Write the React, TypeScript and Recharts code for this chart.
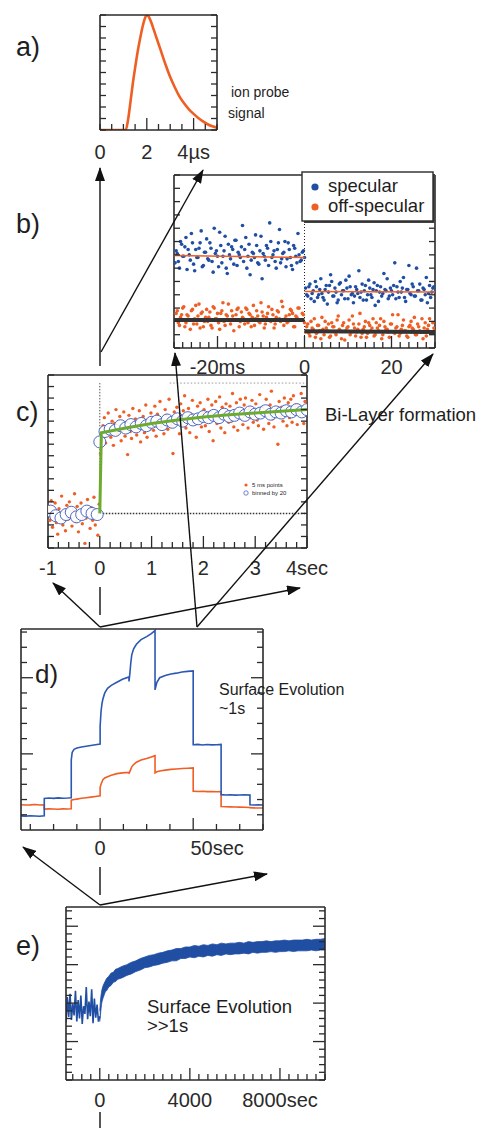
import React from "react";
import { ComposedChart, Line, Scatter, Area, XAxis, YAxis } from "recharts";

const FONT = "'Liberation Sans', Arial, Helvetica, sans-serif";
const INK = "#2a2a2a";
const ORANGE = "#ef5f24";
const BLUE = "#1f4ea3";
const BLUE_D = "#2a58b2";
const GREEN = "#6cab2e";

// ---- a) ion probe pulse ----
const aTime = [0, 0.5, 1.0, 1.1, 1.2, 1.3, 1.4, 1.5, 1.6, 1.7, 1.8, 1.9, 2.0, 2.1, 2.2, 2.3, 2.4, 2.5, 2.6, 2.8, 3.0, 3.2, 3.4, 3.6, 3.8, 4.0, 4.2, 4.4, 4.6, 4.8, 5.0];
const aSignal = [0, 0, 0, 0, 0.9, 2.4, 4.0, 5.4, 6.7, 7.8, 8.8, 9.6, 10, 9.8, 9.3, 8.7, 8.1, 7.5, 6.9, 5.7, 4.6, 3.7, 2.9, 2.3, 1.8, 1.4, 1.05, 0.75, 0.5, 0.32, 0.2];
const aTickLabels: [number, string][] = [[0, "0"], [2, "2"], [4, "4µs"]];

// ---- b) specular / off-specular, ms scale (two interleaved shot sets) ----
const bSpecularPre = [6.4, 7.1, 6.0, 7.8, 6.9, 8.3, 7.4, 6.6, 7.9, 5.8, 6.8, 7.5, 8.8, 6.2, 7.2, 6.7, 7.9, 6.5, 9.0, 7.3, 6.1, 7.7, 6.9, 8.4, 5.6, 7.0, 7.6, 6.3, 8.1, 7.2, 6.8, 9.2, 7.4, 6.0, 7.8, 6.6, 7.1, 8.5, 6.4, 7.3, 5.2, 6.9, 7.7, 6.2, 8.0, 7.0, 6.5, 7.4, 8.9, 6.7, 7.2, 6.1, 7.9, 6.8, 5.9, 7.5, 6.4, 7.0, 6.6, 7.3];
const bSpecularPre2 = [7.3, 6.5, 8.0, 6.9, 7.6, 5.9, 7.0, 8.6, 6.3, 7.4, 6.8, 7.9, 6.1, 7.2, 8.2, 6.6, 7.5, 5.7, 7.1, 6.9, 8.7, 6.4, 7.3, 6.0, 7.8, 6.7, 7.4, 8.1, 6.2, 7.0, 7.6, 6.5, 8.3, 6.9, 5.5, 7.2, 6.8, 7.7, 6.3, 8.4, 7.1, 6.6, 7.5, 9.4, 6.8, 7.3, 6.0, 7.9, 6.4, 7.1, 8.0, 6.7, 7.4, 6.2, 7.7, 6.9, 8.6, 6.5, 7.2, 6.8];
const bOffPre = [2.1, 2.8, 1.7, 2.5, 3.1, 1.9, 2.4, 1.4, 2.9, 2.2, 1.8, 3.3, 2.6, 1.6, 2.3, 2.0, 2.7, 1.5, 3.0, 2.2, 1.9, 2.6, 3.4, 1.7, 2.4, 2.1, 2.8, 1.3, 2.5, 3.0, 2.0, 2.3, 1.8, 2.9, 2.6, 1.6, 3.2, 2.2, 2.4, 1.9, 2.7, 1.5, 2.3, 3.1, 2.0, 2.5, 1.8, 2.8, 2.2, 3.5, 1.7, 2.4, 2.0, 2.9, 2.6, 1.6, 2.3, 3.0, 2.1, 2.5];
const bOffPre2 = [2.6, 1.9, 2.3, 3.0, 1.6, 2.5, 2.1, 2.8, 1.8, 3.2, 2.4, 1.5, 2.7, 2.0, 2.9, 2.3, 1.7, 3.1, 2.2, 2.6, 1.4, 2.8, 2.0, 2.5, 3.3, 1.8, 2.4, 2.1, 2.9, 1.6, 2.7, 2.2, 3.0, 1.9, 2.5, 2.3, 1.7, 2.8, 2.0, 3.4, 2.4, 1.8, 2.6, 2.1, 2.9, 1.5, 2.3, 2.7, 2.0, 3.1, 2.2, 1.9, 2.5, 2.8, 1.6, 2.4, 3.0, 2.1, 2.6, 1.9];
const bSpecularPost = [4.5, 3.9, 4.8, 4.1, 3.5, 4.6, 4.0, 5.2, 3.8, 4.4, 3.3, 4.7, 5.0, 3.9, 4.2, 3.6, 4.9, 4.3, 3.7, 4.5, 5.4, 4.0, 3.4, 4.6, 4.1, 3.8, 4.8, 4.3, 3.6, 5.1, 4.0, 4.4, 3.2, 4.7, 4.2, 3.9, 5.6, 4.3, 3.7, 4.5, 4.0, 6.4, 4.6, 3.8, 4.2, 5.3, 3.5, 4.4, 4.1, 4.8, 3.9, 6.0, 4.3, 3.6, 4.5, 4.0, 3.4, 4.7, 4.2, 4.6];
const bSpecularPost2 = [4.0, 4.6, 3.7, 4.3, 5.0, 3.8, 4.4, 4.1, 3.6, 4.7, 4.2, 5.5, 3.9, 4.5, 3.4, 4.8, 4.0, 4.3, 5.1, 3.7, 4.6, 4.1, 3.9, 4.4, 5.8, 4.2, 3.6, 4.7, 4.0, 4.5, 3.8, 4.9, 4.3, 3.5, 4.6, 4.1, 4.4, 5.2, 3.9, 4.3, 4.7, 3.7, 4.2, 5.0, 4.5, 3.8, 4.4, 6.2, 4.0, 4.6, 3.9, 4.3, 4.8, 3.6, 4.4, 5.3, 4.1, 3.8, 4.5, 4.2];
const bOffPost = [1.2, 1.8, 0.9, 1.5, 2.2, 1.1, 1.7, 0.7, 1.4, 2.0, 1.3, 0.8, 1.9, 1.6, 1.0, 2.4, 1.3, 1.7, 0.6, 1.5, 2.1, 1.2, 1.8, 0.9, 1.4, 2.6, 1.1, 1.6, 0.8, 1.9, 1.3, 2.2, 1.0, 1.5, 1.7, 0.7, 2.0, 1.4, 1.2, 1.8, 2.5, 1.1, 1.6, 0.9, 1.4, 2.1, 1.3, 0.8, 1.7, 1.5, 2.3, 1.0, 1.6, 1.2, 0.7, 1.9, 1.4, 2.2, 1.1, 1.5];
const bOffPost2 = [1.6, 1.1, 2.0, 1.4, 0.8, 1.7, 1.3, 2.3, 1.0, 1.5, 1.8, 0.9, 1.6, 1.2, 2.1, 1.4, 0.7, 1.9, 1.3, 1.6, 1.0, 2.4, 1.5, 1.2, 1.8, 0.8, 1.4, 2.0, 1.1, 1.7, 1.5, 0.9, 1.9, 1.3, 2.2, 1.0, 1.6, 1.4, 0.8, 1.8, 1.2, 1.5, 2.5, 1.1, 1.7, 1.3, 0.9, 1.6, 2.0, 1.4, 1.0, 1.8, 1.3, 2.2, 1.5, 0.9, 1.7, 1.2, 1.9, 1.4];
const bSpecularFitPre = [{ x: -30, y: 6.95 }, { x: 0, y: 6.8 }];
const bSpecularFitPost = [{ x: 0, y: 4.25 }, { x: 30, y: 4.2 }];
const bOffFitPre = [{ x: -30, y: 2.1 }, { x: 0, y: 2.1 }];
const bOffFitPost = [{ x: 0, y: 1.25 }, { x: 30, y: 1.2 }];
const bZeroMarker = [{ x: 0, y: 0 }, { x: 0, y: 13 }];
const bTickLabels: [number, string][] = [[-20, "-20ms"], [0, "0"], [20, "20"]];
const bSampleStep = 0.5; // ms between shots of one set

// ---- c) bi-layer formation, seconds ----
const cOffPre = [3.6, 2.4, 4.1, 1.8, 3.0, 3.9, 2.2, 1.2, 3.4, 2.7, 4.5, 2.0, 3.1, 1.5, 3.7, 2.5, 4.0, 2.9, 1.9, 3.3, 4.7, 2.3, 3.6, 1.4, 2.8, 3.9, 2.1, 3.2, 0.4, 2.6, 4.2, 3.0, 1.7, 3.5, 2.4, 4.4, 2.0, 3.1, 1.1, 3.8];
const cOffPost = [
  8.2, 9.4, 10.6, 11.3, 9.1, 10.0, 11.7, 10.4, 9.6, 11.0, 8.9, 10.8, 12.0, 9.9, 10.5, 11.4, 9.3, 10.2, 11.8, 9.7,
  10.9, 8.1, 11.5, 10.1, 9.5, 12.1, 10.7, 11.2, 9.8, 10.4, 11.9, 9.2, 10.6, 11.4, 10.0, 12.4, 9.6, 11.1, 10.3, 11.7,
  11.3, 10.2, 12.3, 9.7, 11.6, 10.8, 12.7, 10.5, 11.1, 9.9, 12.0, 11.5, 10.3, 12.9, 11.0, 10.6, 8.2, 11.8, 10.9, 12.2,
  11.4, 9.9, 12.5, 10.7, 11.9, 13.2, 10.4, 11.2, 12.1, 10.0, 11.6, 12.8, 10.9, 11.3, 9.6, 12.3, 11.0, 12.6, 10.5, 11.8,
  12.0, 10.6, 11.4, 12.9, 10.1, 11.8, 12.4, 9.3, 11.1, 12.7, 10.8, 11.6, 13.1, 10.4, 12.2, 11.3, 10.0, 12.5, 11.7, 10.9,
  12.3, 11.0, 13.4, 10.5, 11.9, 12.6, 10.2, 11.5, 12.9, 11.2, 10.7, 12.4, 13.0, 11.6, 10.4, 12.1, 11.3, 12.8, 10.9, 11.7,
  12.5, 11.1, 10.6, 13.3, 11.8, 12.2, 10.3, 11.5, 12.9, 11.9, 10.8, 12.4, 13.6, 11.2, 10.5, 12.0, 11.6, 9.0, 12.7, 11.4,
  12.2, 11.0, 13.0, 11.7, 10.6, 12.6, 11.3, 12.9, 10.9, 13.2, 11.8, 12.4, 10.7, 12.1, 11.5, 13.4, 12.0, 10.8, 12.7, 11.6,
];
const cBinnedPre = [3.2, 2.8, 2.6, 2.9, 3.1, 2.7, 2.9, 3.2, 3.0, 2.9];
const cBinnedPost = [9.2, 10.1, 10.3, 10.2, 10.6, 10.4, 10.7, 10.5, 10.8, 10.6, 10.9, 11.0, 10.7, 11.1, 10.9, 11.2, 11.0, 11.3, 11.1, 11.2, 11.4, 11.3, 11.5, 11.3, 11.6, 11.4, 11.5, 11.7, 11.5, 11.8, 11.6, 11.7, 11.9, 11.6, 11.8, 11.7, 11.9, 11.8, 12.0, 11.8, 12.0];
const cFitTime = [0, 0, 0.03, 0.5, 1, 1.5, 2, 2.5, 3, 3.5, 4];
const cFitValue = [3.0, 3.0, 10.0, 10.4, 10.8, 11.1, 11.35, 11.55, 11.7, 11.85, 12.0];
const cBaseline = [{ x: 0, y: 3.0 }, { x: 4, y: 3.0 }];
const cStepMarker = [{ x: 0, y: 3.0 }, { x: 0, y: 14.3 }];
const cTopMarker = [{ x: 1.35, y: 14.3 }, { x: 4, y: 14.3 }];
const cTickLabels: [number, string][] = [[-1, "-1"], [0, "0"], [1, "1"], [2, "2"], [3, "3"], [4, "4sec"]];
const cPointStep = 0.025; // 5 ms points shown every 25 ms
const cBinStep = 0.1;

// ---- d) surface evolution ~1 s ----
const dTime = [-42.5, -40, -37.5, -35, -32.5, -30, -30, -27.5, -25, -22.5, -20, -17.5, -15.5, -15.5, -15, -14, -12.5, -10, -7.5, -5, -2.5, 0, 0, 0.5, 1, 1.5, 2.5, 4, 6, 9, 12, 15.5, 15.5, 16, 16.5, 17, 18, 19.5, 22, 25, 27.5, 29.5, 29.5, 30.5, 32, 35, 38, 41, 44, 47, 50, 50, 52.5, 55, 57.5, 60, 62.5, 65, 65, 67.5, 70, 72.5, 75, 77.5, 80.5, 80.5, 82.5, 85, 87.5];
const dSpecular = [0.93, 0.91, 0.94, 0.92, 0.9, 0.93, 2.07, 2.1, 2.08, 2.11, 2.09, 2.1, 2.12, 4.6, 5.1, 5.3, 5.38, 5.45, 5.5, 5.55, 5.6, 5.65, 6.8, 7.8, 8.3, 8.6, 9.0, 9.3, 9.5, 9.7, 9.9, 10.05, 9.75, 10.3, 11.0, 11.5, 11.9, 12.2, 12.5, 12.7, 12.9, 13.1, 9.2, 9.7, 10.0, 10.15, 10.25, 10.3, 10.38, 10.42, 10.45, 5.6, 5.62, 5.58, 5.61, 5.59, 5.6, 5.62, 2.32, 2.3, 2.31, 2.29, 2.3, 2.31, 2.29, 1.66, 1.64, 1.65, 1.64];
const dOffSpecular = [1.66, 1.64, 1.65, 1.67, 1.64, 1.65, 1.37, 1.39, 1.38, 1.36, 1.39, 1.38, 1.4, 1.95, 1.98, 2.0, 2.03, 2.08, 2.12, 2.16, 2.2, 2.24, 2.8, 3.0, 3.15, 3.3, 3.42, 3.5, 3.6, 3.7, 3.75, 3.78, 3.7, 3.85, 4.0, 4.15, 4.3, 4.45, 4.6, 4.7, 4.8, 4.88, 3.75, 3.82, 3.88, 3.93, 3.98, 4.01, 4.04, 4.06, 4.08, 2.55, 2.53, 2.54, 2.52, 2.53, 2.51, 2.52, 1.54, 1.53, 1.52, 1.51, 1.5, 1.49, 1.48, 1.46, 1.45, 1.44, 1.44];
const dTickLabels: [number, string][] = [[0, "0"], [50, "50sec"]];

// ---- e) surface evolution >>1 s ----
const ePreTime = [-1500, -1440, -1380, -1320, -1260, -1200, -1140, -1080, -1020, -960, -900, -840, -780, -720, -660, -600, -540, -480, -420, -360, -300, -240, -180, -120, -60, 0];
const ePreValue = [7.5, 10.8, 8.2, 11.2, 7.8, 9.9, 8.4, 11.6, 7.6, 10.4, 8.0, 11.0, 7.3, 9.6, 8.6, 12.1, 7.9, 10.2, 8.3, 11.8, 7.4, 10.6, 8.1, 9.8, 7.6, 8.3];
const eTime = [0, 25, 50, 75, 100, 150, 200, 250, 300, 400, 500, 600, 700, 800, 1000, 1200, 1400, 1600, 1800, 2000, 2200, 2400, 2600, 2800, 3000, 3200, 3400, 3600, 3800, 4000, 4200, 4400, 4600, 4800, 5000, 5200, 5400, 5600, 5800, 6000, 6200, 6400, 6600, 6800, 7000, 7200, 7400, 7600, 7800, 8000, 8200, 8400, 8600, 8800, 9000, 9200, 9400, 9600, 9800, 10000];
const eLow = [7.6, 8.3, 9.1, 9.8, 10.2, 10.7, 11.1, 11.5, 11.6, 12.1, 12.3, 12.7, 12.8, 13.1, 13.3, 13.6, 13.8, 14.1, 14.3, 14.6, 14.7, 14.9, 15.0, 15.2, 15.3, 15.5, 15.5, 15.8, 15.8, 16.0, 15.9, 16.1, 16.0, 16.2, 16.1, 16.3, 16.2, 16.4, 16.3, 16.4, 16.4, 16.5, 16.4, 16.6, 16.5, 16.6, 16.6, 16.7, 16.6, 16.7, 16.7, 16.8, 16.7, 16.8, 16.8, 16.8, 16.9, 16.8, 16.9, 16.9];
const eHigh = [9.0, 10.1, 10.9, 11.4, 11.8, 12.3, 12.6, 12.9, 13.2, 13.5, 13.9, 14.0, 14.4, 14.5, 14.8, 15.0, 15.3, 15.5, 15.8, 16.0, 16.2, 16.3, 16.5, 16.6, 16.8, 16.9, 17.1, 17.1, 17.3, 17.3, 17.5, 17.4, 17.6, 17.5, 17.7, 17.6, 17.8, 17.7, 17.8, 17.8, 17.9, 17.8, 18.0, 17.9, 18.0, 18.0, 18.1, 18.0, 18.1, 18.1, 18.2, 18.1, 18.2, 18.2, 18.2, 18.3, 18.2, 18.3, 18.3, 18.4];
const eTickLabels: [number, string][] = [[0, "0"], [4000, "4000"], [8000, "8000sec"]];

// ---------- helpers ----------
const steps = (a: number, b: number, s: number) => {
  const out: number[] = [];
  for (let i = 0; a + i * s <= b + 1e-9; i++) out.push(+(a + i * s).toFixed(6));
  return out;
};
const toXY = (xs: number[], ys: number[]) => xs.map((x, i) => ({ x, y: ys[i] }));
const spaced = (ys: number[], start: number, step: number) => ys.map((y, i) => ({ x: +(start + i * step).toFixed(6), y }));

type Side = "bottom" | "top" | "left" | "right";
const makeTick = (side: Side, major: number[], labels: [number, string][] = [], labelY = 27, shift: Record<string, number> = {}) =>
  (props: any) => {
    const { x, y, payload } = props;
    const v = Number(payload.value);
    const isMajor = major.some((m) => Math.abs(m - v) < 1e-6);
    const len = isMajor ? 12 : 6;
    let x2 = x;
    let y2 = y;
    if (side === "bottom") y2 = y - len;
    if (side === "top") y2 = y + len;
    if (side === "left") x2 = x + len;
    if (side === "right") x2 = x - len;
    const lab = labels.find((l) => Math.abs(l[0] - v) < 1e-6);
    return (
      <g>
        <line x1={x} y1={y} x2={x2} y2={y2} stroke={INK} strokeWidth={1.3} />
        {lab ? (
          <text x={x + (shift[lab[1]] ?? 0)} y={y + labelY} textAnchor="middle" fontSize={20} fontFamily={FONT} fill={INK}>
            {lab[1]}
          </text>
        ) : null}
      </g>
    );
  };

type FrameProps = {
  box: [number, number, number, number];
  xDomain: [number, number];
  yDomain: [number, number];
  xTicks: number[];
  yTicks: number[];
  xMajor: number[];
  yMajor: number[];
  xLabels: [number, string][];
  labelY?: number;
  shift?: Record<string, number>;
  children: React.ReactNode;
};

const AX = { xAxisId: "b", yAxisId: "l" } as const;
const axisLine = { stroke: INK, strokeWidth: 1.6 };

// axes get 1px of room each (a zero-sized axis is not drawn), margins make up for it
function Frame({ box, xDomain, yDomain, xTicks, yTicks, xMajor, yMajor, xLabels, labelY = 27, shift = {}, children }: FrameProps) {
  const [x1, y1, x2, y2] = box;
  const padTop = 10;
  const padBottom = 45;
  return (
    <div style={{ position: "absolute", left: 0, top: y1 - padTop }}>
      <ComposedChart width={483} height={y2 - y1 + padTop + padBottom} margin={{ top: padTop - 1, bottom: padBottom - 1, left: x1 - 1, right: 483 - x2 - 1 }}>
        <XAxis xAxisId="b" orientation="bottom" type="number" dataKey="x" domain={xDomain} allowDataOverflow ticks={xTicks} interval={0} height={1} tickSize={0} tickMargin={0} tickLine={false} axisLine={axisLine} tick={makeTick("bottom", xMajor, xLabels, labelY, shift)} />
        <XAxis xAxisId="t" orientation="top" type="number" domain={xDomain} allowDataOverflow ticks={xTicks} interval={0} height={1} tickSize={0} tickMargin={0} tickLine={false} axisLine={axisLine} tick={makeTick("top", xMajor)} />
        <YAxis yAxisId="l" orientation="left" type="number" dataKey="y" domain={yDomain} allowDataOverflow ticks={yTicks} interval={0} width={1} tickSize={0} tickMargin={0} tickLine={false} axisLine={axisLine} tick={makeTick("left", yMajor)} />
        <YAxis yAxisId="r" orientation="right" type="number" domain={yDomain} allowDataOverflow ticks={yTicks} interval={0} width={1} tickSize={0} tickMargin={0} tickLine={false} axisLine={axisLine} tick={makeTick("right", yMajor)} />
        {children}
      </ComposedChart>
    </div>
  );
}

const dot = (color: string, r = 1.8) => (p: any) => <circle cx={p.cx} cy={p.cy} r={r} fill={color} />;
const ring = (p: any) => <circle cx={p.cx} cy={p.cy} r={6} fill="#ffffff" fillOpacity={0.9} stroke="#4e68bd" strokeWidth={1} />;

// ---------- annotation overlay ----------
const ARROWS: [number, number, number, number, boolean][] = [
  [100, 366, 100, 168, true],
  [101, 352, 203, 170, true],
  [100, 587, 100, 615, false],
  [100, 627, 53, 583, true],
  [100, 627, 300, 588, true],
  [197, 627, 175, 353, true],
  [197, 627, 433, 354, true],
  [100, 867, 100, 895, false],
  [100, 905, 23, 847, true],
  [100, 905, 267, 874, true],
  [100, 1112, 100, 1128, false],
];

function Overlay() {
  const t = { fontFamily: FONT, fill: "#1e1e1e" };
  return (
    <svg width={483} height={1128} style={{ position: "absolute", left: 0, top: 0, pointerEvents: "none" }}>
      <defs>
        <marker id="head" markerUnits="userSpaceOnUse" markerWidth={14} markerHeight={10} refX={13} refY={5} orient="auto">
          <path d="M0,0 L14,5 L0,10 Z" fill="#111" />
        </marker>
      </defs>
      {ARROWS.map(([ax, ay, bx, by, head], i) => (
        <line key={i} x1={ax} y1={ay} x2={bx} y2={by} stroke="#111" strokeWidth={1.4} markerEnd={head ? "url(#head)" : undefined} />
      ))}

      <text x={16} y={56} fontSize={27} {...t}>a)</text>
      <text x={16} y={233} fontSize={27} {...t}>b)</text>
      <text x={16} y={421} fontSize={27} {...t}>c)</text>
      <text x={35} y={683} fontSize={26} {...t}>d)</text>
      <text x={16} y={955} fontSize={27} {...t}>e)</text>

      <text x={231} y={97} fontSize={14} {...t}>ion probe</text>
      <text x={228} y={118} fontSize={14} {...t}>signal</text>
      <text x={325} y={421} fontSize={18.5} {...t}>Bi-Layer formation</text>
      <text x={219} y={695} fontSize={16} {...t}>Surface Evolution</text>
      <text x={219} y={714} fontSize={16} {...t}>~1s</text>
      <text x={147} y={1013} fontSize={18.5} {...t}>Surface Evolution</text>
      <text x={147} y={1032} fontSize={18.5} {...t}>&gt;&gt;1s</text>

      {/* legend b */}
      <rect x={304} y={174} width={131} height={49} fill="#444" />
      <rect x={302} y={172} width={131} height={49} fill="#fff" stroke={INK} strokeWidth={1.4} />
      <circle cx={315} cy={187} r={3.6} fill={BLUE} />
      <circle cx={315} cy={207} r={3.6} fill={ORANGE} />
      <text x={328} y={192} fontSize={18.5} {...t}>specular</text>
      <text x={328} y={212} fontSize={18.5} {...t}>off-specular</text>

      {/* legend c */}
      <circle cx={246} cy={485} r={1.6} fill={ORANGE} />
      <circle cx={246} cy={493} r={2.2} fill="#fff" stroke="#4e68bd" strokeWidth={0.8} />
      <text x={252} y={487} fontSize={6} {...t}>5 ms points</text>
      <text x={252} y={495} fontSize={6} {...t}>binned by 20</text>
    </svg>
  );
}

export default function App() {
  return (
    <div style={{ position: "absolute", left: 0, top: 0, width: 483, height: 1128, background: "#fff", overflow: "hidden", fontFamily: FONT }}>
      {/* a */}
      <Frame box={[100, 15, 217, 130]} xDomain={[0, 5]} yDomain={[0, 10]} xTicks={steps(0, 5, 0.5)} yTicks={steps(0, 10, 1)} xMajor={[2, 4]} yMajor={[]} xLabels={aTickLabels} labelY={29}>
        <Line {...AX} data={toXY(aTime, aSignal)} dataKey="y" type="monotone" stroke={ORANGE} strokeWidth={2.6} dot={false} isAnimationActive={false} />
      </Frame>

      {/* b */}
      <Frame box={[174, 175, 435, 348]} xDomain={[-30, 30]} yDomain={[0, 13]} xTicks={steps(-30, 30, 2)} yTicks={steps(0, 13, 1)} xMajor={[-20, 0, 20]} yMajor={[]} xLabels={bTickLabels} labelY={26}>
        <Line {...AX} data={bZeroMarker} dataKey="y" stroke="#222" strokeWidth={1} strokeDasharray="1 2" dot={false} isAnimationActive={false} />
        <Scatter {...AX} data={spaced(bSpecularPre, -29.75, bSampleStep)} shape={dot(BLUE)} isAnimationActive={false} />
        <Scatter {...AX} data={spaced(bSpecularPre2, -29.5, bSampleStep)} shape={dot(BLUE)} isAnimationActive={false} />
        <Scatter {...AX} data={spaced(bSpecularPost, 0.25, bSampleStep)} shape={dot(BLUE)} isAnimationActive={false} />
        <Scatter {...AX} data={spaced(bSpecularPost2, 0.5, bSampleStep)} shape={dot(BLUE)} isAnimationActive={false} />
        <Scatter {...AX} data={spaced(bOffPre, -29.75, bSampleStep)} shape={dot(ORANGE)} isAnimationActive={false} />
        <Scatter {...AX} data={spaced(bOffPre2, -29.5, bSampleStep)} shape={dot(ORANGE)} isAnimationActive={false} />
        <Scatter {...AX} data={spaced(bOffPost, 0.25, bSampleStep)} shape={dot(ORANGE)} isAnimationActive={false} />
        <Scatter {...AX} data={spaced(bOffPost2, 0.5, bSampleStep)} shape={dot(ORANGE)} isAnimationActive={false} />
        <Line {...AX} zIndex={700} data={bSpecularFitPre} dataKey="y" stroke={ORANGE} strokeWidth={1.5} dot={false} isAnimationActive={false} />
        <Line {...AX} zIndex={700} data={bSpecularFitPost} dataKey="y" stroke={ORANGE} strokeWidth={1.5} dot={false} isAnimationActive={false} />
        <Line {...AX} zIndex={700} data={bOffFitPre} dataKey="y" stroke="#333" strokeWidth={4} dot={false} isAnimationActive={false} />
        <Line {...AX} zIndex={700} data={bOffFitPost} dataKey="y" stroke="#333" strokeWidth={4} dot={false} isAnimationActive={false} />
      </Frame>

      {/* c */}
      <Frame box={[48, 375, 307, 548]} xDomain={[-1, 4]} yDomain={[0, 15]} xTicks={steps(-1, 4, 0.2)} yTicks={steps(0, 15, 1)} xMajor={[-1, 0, 1, 2, 3, 4]} yMajor={[]} xLabels={cTickLabels} labelY={27}>
        <Line {...AX} data={cBaseline} dataKey="y" stroke="#333" strokeWidth={1.5} strokeDasharray="1.5 1.5" dot={false} isAnimationActive={false} />
        <Line {...AX} data={cStepMarker} dataKey="y" stroke="#555" strokeWidth={1} strokeDasharray="1.5 1.5" dot={false} isAnimationActive={false} />
        <Line {...AX} data={cTopMarker} dataKey="y" stroke="#999" strokeWidth={1} strokeDasharray="1.5 2" dot={false} isAnimationActive={false} />
        <Scatter {...AX} data={spaced(cOffPre, -1 + cPointStep / 2, cPointStep)} shape={dot(ORANGE, 1.7)} isAnimationActive={false} />
        <Scatter {...AX} data={spaced(cOffPost, cPointStep / 2, cPointStep)} shape={dot(ORANGE, 1.7)} isAnimationActive={false} />
        <Scatter {...AX} data={spaced(cBinnedPre, -0.95, cBinStep)} shape={ring} isAnimationActive={false} />
        <Scatter {...AX} data={spaced(cBinnedPost, 0, cBinStep)} shape={ring} isAnimationActive={false} />
        <Line {...AX} zIndex={700} data={toXY(cFitTime, cFitValue)} dataKey="y" type="linear" stroke={GREEN} strokeWidth={3} dot={false} isAnimationActive={false} />
      </Frame>

      {/* d */}
      <Frame box={[21, 629, 263, 830]} xDomain={[-42.5, 87.5]} yDomain={[0, 13.2]} xTicks={steps(-37.5, 87.5, 12.5)} yTicks={steps(1, 13, 1)} xMajor={[0, 50]} yMajor={[5, 10]} xLabels={dTickLabels} labelY={25} shift={{ "50sec": 24 }}>
        <Line {...AX} data={toXY(dTime, dOffSpecular)} dataKey="y" type="linear" stroke={ORANGE} strokeWidth={1.6} dot={false} isAnimationActive={false} />
        <Line {...AX} data={toXY(dTime, dSpecular)} dataKey="y" type="linear" stroke={BLUE_D} strokeWidth={1.6} dot={false} isAnimationActive={false} />
      </Frame>

      {/* e */}
      <Frame box={[66, 907, 325, 1080]} xDomain={[-1500, 10000]} yDomain={[0, 22.5]} xTicks={steps(-1200, 10000, 400)} yTicks={steps(0, 22, 1)} xMajor={[0, 4000, 8000]} yMajor={[5, 10, 15, 20]} xLabels={eTickLabels} labelY={27}>
        <Line {...AX} data={toXY(ePreTime, ePreValue)} dataKey="y" type="linear" stroke={BLUE} strokeWidth={1.6} dot={false} isAnimationActive={false} />
        <Area {...AX} data={eTime.map((x, i) => ({ x, band: [eLow[i], eHigh[i]] }))} dataKey="band" type="linear" stroke={BLUE} strokeWidth={0.8} fill={BLUE} fillOpacity={1} dot={false} isAnimationActive={false} />
      </Frame>

      <Overlay />
    </div>
  );
}
